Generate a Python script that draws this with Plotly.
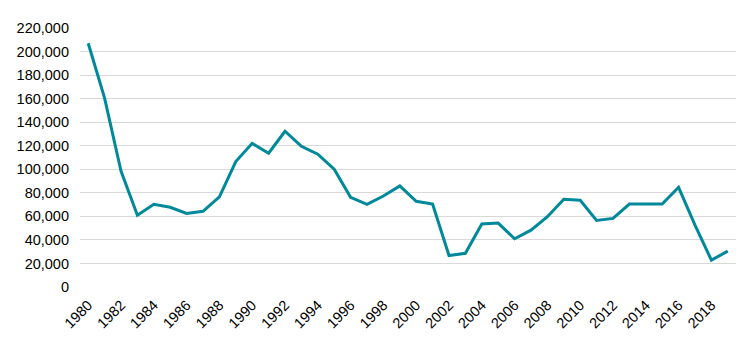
import plotly.graph_objects as go

years = list(range(1980, 2020))
values = [207000, 160500, 98500, 61000, 70200, 67700, 62500, 64300, 76500, 106500,
          122000, 113600, 132300, 119500, 112800, 100000, 76200, 70200, 77300, 85800,
          72800, 70500, 26700, 28600, 53500, 54300, 41000, 48300, 59700, 74500,
          73700, 56600, 58300, 70400, 70400, 70400, 84700, 52500, 22800, 30500]
x_ticks = list(range(1980, 2019, 2))
y_ticks = list(range(0, 220001, 20000))

fig = go.Figure(go.Scatter(x=years, y=values, mode="lines",
                           line=dict(color="#00899A", width=3)))

font = dict(family="Liberation Sans, Arial, sans-serif", size=14.5, color="#000000")
fig.update_layout(
    width=753, height=341,
    margin=dict(l=72, r=25, t=20, b=62),
    paper_bgcolor="white", plot_bgcolor="white",
    showlegend=False, font=font,
)
fig.update_xaxes(range=[1979.5, 2019.5], tickvals=x_ticks, ticktext=[str(t) for t in x_ticks],
                 tickangle=-45, showgrid=False, zeroline=False, showline=False,
                 tickfont=font, ticks="", automargin=False, ticklabelstandoff=6)
fig.update_yaxes(range=[0, 220000], tickvals=y_ticks, tickformat=",",
                 showgrid=True, gridcolor="#D9D9D9", gridwidth=1, zeroline=False,
                 showline=False, tickfont=font, ticklabelstandoff=10, automargin=False)
fig.write_html("out.html")
